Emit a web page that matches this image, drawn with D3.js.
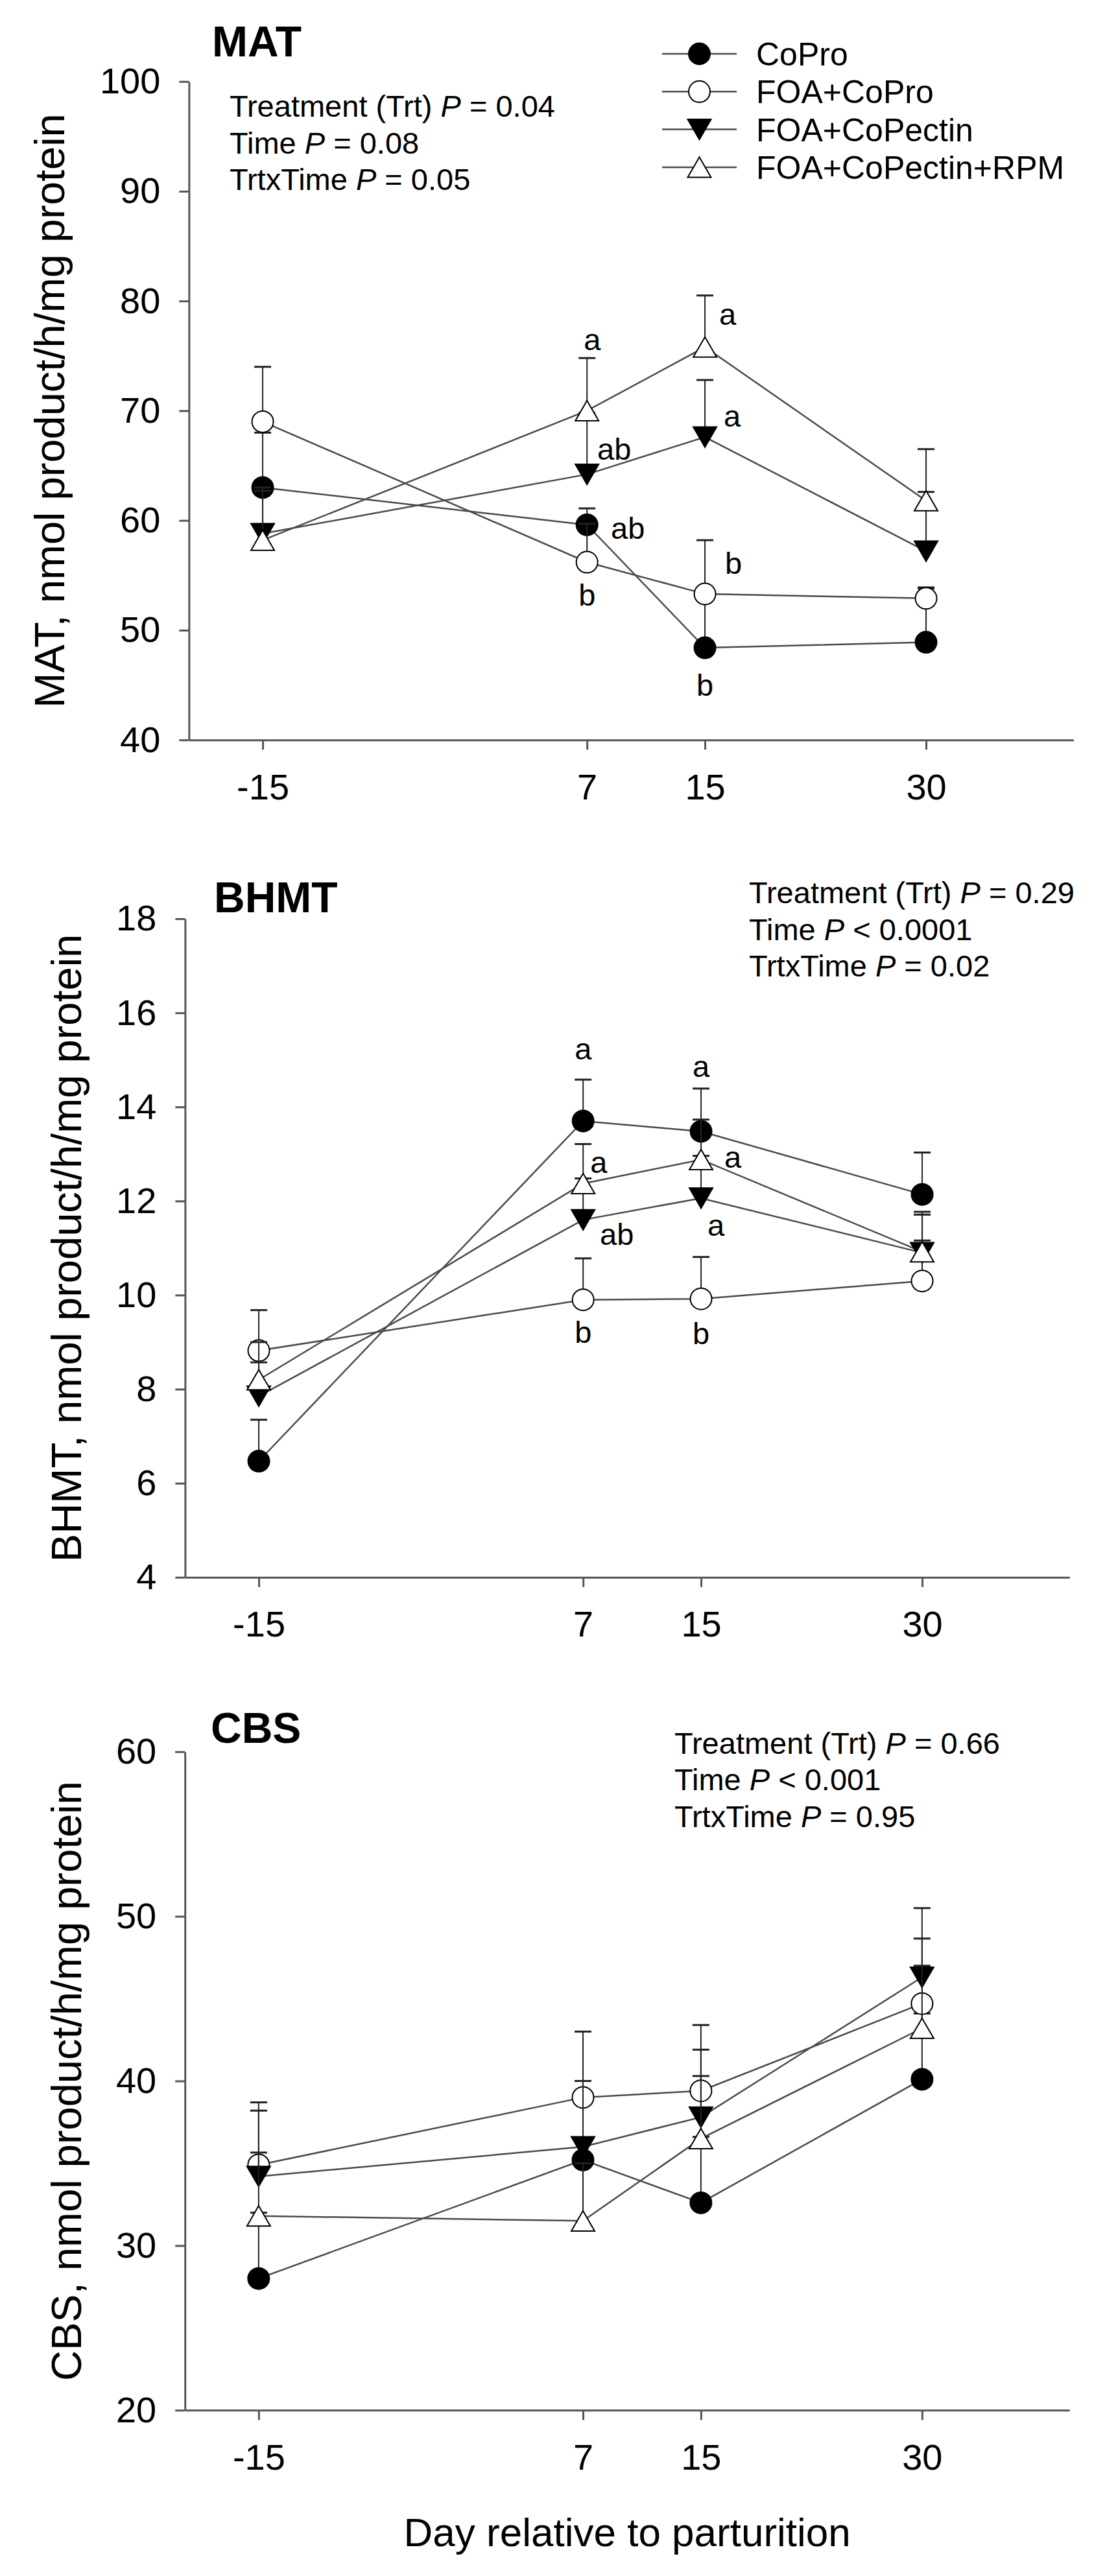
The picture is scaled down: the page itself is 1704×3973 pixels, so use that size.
<!DOCTYPE html>
<html lang="en">
<head>
<meta charset="UTF-8">
<title>MAT, BHMT and CBS activity</title>
<script src="https://cdn.jsdelivr.net/npm/d3@7"></script>
<style>
  body { margin: 0; background: #fff; }
  svg { display: block; font-family: "Liberation Sans", Arial, sans-serif; }
</style>
</head>
<body>
<div id="chart"></div>
<script>
// sampling days and treatment groups
const days = [-15, 7, 15, 30];
const treatments = ["CoPro", "FOA+CoPro", "FOA+CoPectin", "FOA+CoPectin+RPM"];

// MAT means / SEM (one row per treatment, one column per day)
const matMeans = [
  [63.0, 59.6, 48.4, 48.9],
  [69.0, 56.2, 53.3, 52.9],
  [58.8, 64.2, 67.6, 57.2],
  [58.2, 70.0, 75.8, 61.8]
];
const matSE = [
  [5.0, 1.5, 4.9, 5.0],
  [5.0, 3.5, 4.9, 0.9],
  [4.2, 5.6, 5.2, 5.4],
  [4.5, 4.8, 4.7, 4.7]
];

// BHMT
const bhmtMeans = [
  [6.47, 13.70, 13.48, 12.14],
  [8.82, 9.90, 9.92, 10.30],
  [7.85, 11.60, 12.06, 10.90],
  [8.20, 12.37, 12.88, 10.92]
];
const bhmtSE = [
  [0.88, 0.88, 0.91, 0.89],
  [0.86, 0.88, 0.89, 0.86],
  [0.72, 0.88, 0.90, 0.81],
  [0.80, 0.84, 0.85, 0.85]
];

// CBS
const cbsMeans = [
  [28.0, 35.2, 32.6, 40.1],
  [34.9, 39.0, 39.4, 44.7],
  [34.2, 36.0, 37.8, 46.3],
  [31.8, 31.5, 36.5, 43.2]
];
const cbsSE = [
  [4.0, 1.2, 4.0, 4.0],
  [3.8, 4.0, 4.0, 3.95],
  [4.0, 4.0, 4.1, 4.2],
  [3.85, 3.5, 3.8, 3.8]
];

// y tick values
const matTicks = [40, 50, 60, 70, 80, 90, 100];
const bhmtTicks = [4, 6, 8, 10, 12, 14, 16, 18];
const cbsTicks = [20, 30, 40, 50, 60];

// separation letters: [day, y value, label, pixel shift right]
const matLetters = [
  [7, 76.5, "a", 8], [7, 66.5, "ab", 42], [7, 59.3, "ab", 63], [7, 53.2, "b", 0],
  [15, 78.8, "a", 35], [15, 69.5, "a", 42], [15, 56.1, "b", 44], [15, 45.0, "b", 0]
];
const bhmtLetters = [
  [7, 15.24, "a", 0], [15, 14.86, "a", 0], [7, 12.82, "a", 24], [7, 11.30, "ab", 52],
  [15, 12.94, "a", 49], [15, 11.49, "a", 23], [7, 9.21, "b", 0], [15, 9.18, "b", 0]
];
const cbsLetters = [];

// statistics text: [prefix, comparison + value]
const matStats = [["Treatment (Trt) ", " = 0.04"], ["Time ", " = 0.08"], ["TrtxTime ", " = 0.05"]];
const bhmtStats = [["Treatment (Trt) ", " = 0.29"], ["Time ", " < 0.0001"], ["TrtxTime ", " = 0.02"]];
const cbsStats = [["Treatment (Trt) ", " = 0.66"], ["Time ", " < 0.001"], ["TrtxTime ", " = 0.95"]];

const shapes = ["circle", "circle", "down", "up"];
const fills = ["#000", "#fff", "#000", "#fff"];

const W = 1704, H = 3973;
const axisColor = "#555";
const lineColor = "#4a4a4a";

const svg = d3.select("#chart").append("svg")
  .attr("width", W)
  .attr("height", H);

const panels = [
  { name: "MAT", means: matMeans, se: matSE, ticks: matTicks, letters: matLetters, stats: matStats,
    left: 291.4, right: 1655.4, top: 125.7, bottom: 1141.2,
    titleX: 327, titleY: 87, statsX: 354, statsY: 180, yTitleX: 76 },
  { name: "BHMT", means: bhmtMeans, se: bhmtSE, ticks: bhmtTicks, letters: bhmtLetters, stats: bhmtStats,
    left: 285.4, right: 1649.4, top: 1417, bottom: 2432.7,
    titleX: 330, titleY: 1407, statsX: 1155, statsY: 1393, yTitleX: 102 },
  { name: "CBS", means: cbsMeans, se: cbsSE, ticks: cbsTicks, letters: cbsLetters, stats: cbsStats,
    left: 285.2, right: 1649.2, top: 2701.7, bottom: 3717.3,
    titleX: 325, titleY: 2688, statsX: 1040, statsY: 2704.5, yTitleX: 102 }
];

function markerPath(shape) {
  const s = 36, h = s * 0.866;
  if (shape === "up") return `M0,${-h / 2}L${s / 2},${h / 2}L${-s / 2},${h / 2}Z`;
  return `M0,${h / 2}L${s / 2},${-h / 2}L${-s / 2},${-h / 2}Z`;
}

function drawMarker(g, shape, fill, cx, cy) {
  if (shape === "circle") {
    g.append("circle")
      .attr("cx", cx).attr("cy", cy).attr("r", 16.5)
      .attr("fill", fill).attr("stroke", "#000").attr("stroke-width", 2);
  } else {
    g.append("path")
      .attr("d", markerPath(shape))
      .attr("transform", `translate(${cx},${cy})`)
      .attr("fill", fill).attr("stroke", "#000").attr("stroke-width", 2);
  }
}

panels.forEach((p, pi) => {
  const x = d3.scaleLinear().domain([-20, 40]).range([p.left, p.right]);
  const y = d3.scaleLinear().domain([p.ticks[0], p.ticks[p.ticks.length - 1]]).range([p.bottom, p.top]);

  // axes
  const yAxis = svg.append("g")
    .attr("transform", `translate(${p.left},0)`)
    .call(d3.axisLeft(y).tickValues(p.ticks).tickSize(15).tickSizeOuter(0).tickPadding(29).tickFormat(d3.format("d")));
  const xAxis = svg.append("g")
    .attr("transform", `translate(0,${p.bottom})`)
    .call(d3.axisBottom(x).tickValues(days).tickSize(15).tickSizeOuter(0).tickPadding(37).tickFormat(d3.format("d")));
  [yAxis, xAxis].forEach(a => {
    a.attr("font-family", null).attr("font-size", 56);
    a.selectAll("path, line").attr("stroke", axisColor).attr("stroke-width", 3);
    a.selectAll("text").attr("fill", "#000");
  });
  xAxis.selectAll("text").text(d => d < 0 ? "-" + Math.abs(d) : d);

  // panel title
  svg.append("text")
    .attr("x", p.titleX).attr("y", p.titleY)
    .attr("font-size", 66).attr("font-weight", "bold")
    .text(p.name);

  // y axis title
  svg.append("text")
    .attr("transform", `translate(${p.yTitleX},${(p.top + p.bottom) / 2}) rotate(-90)`)
    .attr("text-anchor", "middle").attr("dy", "0.35em")
    .attr("font-size", 65)
    .text(p.name + ", nmol product/h/mg protein");

  // stats block
  p.stats.forEach((s, i) => {
    const t = svg.append("text")
      .attr("x", p.statsX).attr("y", p.statsY + i * 56.7)
      .attr("font-size", 47);
    t.append("tspan").text(s[0]);
    t.append("tspan").attr("font-style", "italic").text("P");
    t.append("tspan").text(s[1]);
  });

  const line = d3.line().x(d => x(d[0])).y(d => y(d[1]));

  // connecting lines under everything
  p.means.forEach(m => {
    svg.append("path")
      .attr("d", line(days.map((d, i) => [d, m[i]])))
      .attr("fill", "none").attr("stroke", lineColor).attr("stroke-width", 2.5);
  });

  // error bars and symbols, one treatment after another
  p.means.forEach((m, si) => {
    const g = svg.append("g");
    days.forEach((d, i) => {
      const cx = x(d), y0 = y(m[i]), y1 = y(m[i] + p.se[si][i]);
      g.append("line").attr("x1", cx).attr("x2", cx).attr("y1", y0).attr("y2", y1)
        .attr("stroke", "#222").attr("stroke-width", 2);
      g.append("line").attr("x1", cx - 13).attr("x2", cx + 13).attr("y1", y1).attr("y2", y1)
        .attr("stroke", "#222").attr("stroke-width", 3);
    });
    days.forEach((d, i) => drawMarker(g, shapes[si], fills[si], x(d), y(m[i])));
  });

  // letters
  p.letters.forEach(l => {
    svg.append("text")
      .attr("x", x(l[0]) + l[3]).attr("y", y(l[1]))
      .attr("dy", "0.35em").attr("text-anchor", "middle")
      .attr("font-size", 47)
      .text(l[2]);
  });

  // x axis title on the last panel
  if (pi === panels.length - 1) {
    svg.append("text")
      .attr("x", (p.left + p.right) / 2).attr("y", 3927)
      .attr("text-anchor", "middle")
      .attr("font-size", 62)
      .text("Day relative to parturition");
  }
});

// legend (top panel)
const legend = svg.append("g");
treatments.forEach((t, i) => {
  const cy = 83 + i * 58.3;
  legend.append("line").attr("x1", 1021).attr("x2", 1136).attr("y1", cy).attr("y2", cy)
    .attr("stroke", lineColor).attr("stroke-width", 2.5);
  drawMarker(legend, shapes[i], fills[i], 1078.5, cy);
  legend.append("text").attr("x", 1166).attr("y", cy).attr("dy", "0.36em")
    .attr("font-size", 50).text(t);
});
</script>
</body>
</html>
